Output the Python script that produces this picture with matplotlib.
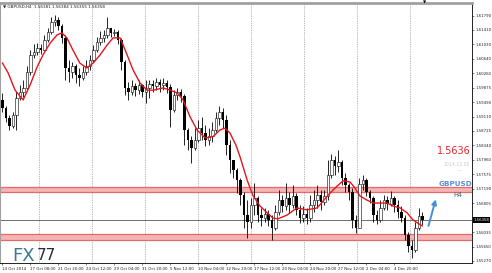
import matplotlib
matplotlib.use("Agg")
import matplotlib.pyplot as plt
from matplotlib.transforms import blended_transform_factory
import numpy as np

# GBPUSD H4 candles, one entry per bar (open = previous close)
first_open = 1.5955
closes = [1.5934, 1.5907, 1.5886, 1.5915, 1.5960, 1.5976, 1.5987, 1.6029, 1.6075, 1.6083,
          1.6093, 1.6088, 1.6114, 1.6136, 1.6162, 1.6168, 1.6152, 1.6120, 1.6040, 1.6029,
          1.6045, 1.6021, 1.6013, 1.6029, 1.6045, 1.6061, 1.6088, 1.6109, 1.6120, 1.6128,
          1.6146, 1.6133, 1.6136, 1.6114, 1.6056, 1.5987, 1.5976, 1.5992, 1.5982, 1.5995,
          1.5976, 1.5987, 1.5997, 1.5992, 1.6003, 1.5995, 1.6000, 1.5989, 1.5928, 1.5968,
          1.5976, 1.5966, 1.5875, 1.5849, 1.5827, 1.5849, 1.5880, 1.5867, 1.5849, 1.5859,
          1.5875, 1.5907, 1.5923, 1.5902, 1.5835, 1.5795, 1.5769, 1.5742, 1.5702, 1.5649,
          1.5631, 1.5676, 1.5694, 1.5649, 1.5641, 1.5652, 1.5636, 1.5615, 1.5657, 1.5689,
          1.5673, 1.5694, 1.5676, 1.5700, 1.5663, 1.5641, 1.5652, 1.5641, 1.5676, 1.5689,
          1.5702, 1.5684, 1.5700, 1.5756, 1.5795, 1.5780, 1.5790, 1.5748, 1.5729, 1.5710,
          1.5636, 1.5615, 1.5732, 1.5742, 1.5710, 1.5694, 1.5649, 1.5636, 1.5668, 1.5689,
          1.5679, 1.5694, 1.5676, 1.5657, 1.5641, 1.5596, 1.5567, 1.5556, 1.5615, 1.5647,
          1.56358]
highs = [1.5974, 1.5939, 1.5915, 1.5923, 1.5976, 1.5995, 1.6008, 1.6045, 1.6088, 1.6104,
         1.6106, 1.6104, 1.6128, 1.6146, 1.6176, 1.6181, 1.6176, 1.6157, 1.6128, 1.6061,
         1.6056, 1.6051, 1.6040, 1.6045, 1.6061, 1.6075, 1.6101, 1.6122, 1.6138, 1.6141,
         1.6176, 1.6146, 1.6144, 1.6141, 1.6120, 1.6061, 1.6003, 1.6008, 1.6000, 1.6008,
         1.5997, 1.6008, 1.6008, 1.6008, 1.6013, 1.6011, 1.6013, 1.6008, 1.5997, 1.5982,
         1.5987, 1.5984, 1.5971, 1.5880, 1.5859, 1.5880, 1.5902, 1.5910, 1.5888, 1.5880,
         1.5896, 1.5923, 1.5939, 1.5934, 1.5915, 1.5849, 1.5795, 1.5774, 1.5748, 1.5710,
         1.5689, 1.5694, 1.5734, 1.5700, 1.5668, 1.5668, 1.5663, 1.5649, 1.5676, 1.5716,
         1.5702, 1.5734, 1.5710, 1.5729, 1.5708, 1.5676, 1.5673, 1.5668, 1.5702, 1.5716,
         1.5729, 1.5716, 1.5716, 1.5795, 1.5811, 1.5806, 1.5822, 1.5795, 1.5761, 1.5734,
         1.5721, 1.5649, 1.5748, 1.5756, 1.5748, 1.5716, 1.5700, 1.5663, 1.5689, 1.5702,
         1.5700, 1.5713, 1.5700, 1.5689, 1.5673, 1.5649, 1.5604, 1.5583, 1.5631, 1.5668,
         1.5657]
lows = [1.5923, 1.5896, 1.5875, 1.5881, 1.5875, 1.5955, 1.5963, 1.5982, 1.6021, 1.6067,
        1.6075, 1.6077, 1.6088, 1.6109, 1.6130, 1.6152, 1.6141, 1.6106, 1.6008, 1.6003,
        1.6013, 1.6000, 1.5992, 1.6008, 1.6021, 1.6035, 1.6056, 1.6083, 1.6101, 1.6109,
        1.6120, 1.6122, 1.6125, 1.6104, 1.6035, 1.5968, 1.5955, 1.5968, 1.5966, 1.5971,
        1.5963, 1.5947, 1.5960, 1.5976, 1.5982, 1.5976, 1.5982, 1.5974, 1.5883, 1.5923,
        1.5955, 1.5950, 1.5835, 1.5822, 1.5788, 1.5822, 1.5843, 1.5849, 1.5833, 1.5835,
        1.5843, 1.5870, 1.5889, 1.5880, 1.5809, 1.5761, 1.5748, 1.5708, 1.5676, 1.5615,
        1.5588, 1.5615, 1.5649, 1.5631, 1.5620, 1.5631, 1.5620, 1.5583, 1.5609, 1.5649,
        1.5657, 1.5663, 1.5655, 1.5668, 1.5649, 1.5628, 1.5631, 1.5625, 1.5631, 1.5657,
        1.5668, 1.5663, 1.5676, 1.5689, 1.5748, 1.5756, 1.5764, 1.5729, 1.5710, 1.5689,
        1.5615, 1.5601, 1.5615, 1.5716, 1.5700, 1.5681, 1.5631, 1.5625, 1.5631, 1.5663,
        1.5663, 1.5673, 1.5657, 1.5641, 1.5631, 1.5583, 1.5551, 1.5535, 1.5551, 1.5609,
        1.5623]

# red moving average (bar position, price)
ma_bars = [0, 1.6, 3.6, 5.9, 7.9, 9.9, 11.6, 13.6, 15.6, 17.0, 18.4, 20.1, 22.1, 24.1, 25.9,
           27.9, 29.9, 31.6, 33.6, 35.6, 37.3, 39.3, 41.3, 43.0, 45.9, 47.9, 49.9, 51.6, 53.6,
           55.6, 57.9, 60.1, 62.1, 63.6, 65.0, 66.7, 67.9, 69.9, 71.6, 73.6, 75.6, 77.3, 78.7,
           81.3, 84.1, 87.0, 89.9, 91.6, 93.0, 95.6, 97.3, 99.3, 100.7, 102.1, 104.1, 105.9,
           107.9, 109.9, 111.6, 113.6, 115.6, 117.3, 119.9]
ma_values = [1.6053, 1.6027, 1.5981, 1.5955, 1.5995, 1.6043, 1.6075, 1.6106, 1.6128, 1.6133,
             1.6120, 1.6088, 1.6053, 1.6040, 1.6053, 1.6075, 1.6101, 1.6120, 1.6120, 1.6075,
             1.6035, 1.6000, 1.5981, 1.5981, 1.5987, 1.5981, 1.5974, 1.5955, 1.5910, 1.5875,
             1.5854, 1.5857, 1.5875, 1.5880, 1.5867, 1.5835, 1.5803, 1.5742, 1.5700, 1.5673,
             1.5655, 1.5641, 1.5639, 1.5649, 1.5668, 1.5663, 1.5668, 1.5686, 1.5702, 1.5726,
             1.5740, 1.5737, 1.5721, 1.5700, 1.5689, 1.5681, 1.5681, 1.5681, 1.5673, 1.5668,
             1.5655, 1.5636, 1.5620]

x_labels = ["14 Oct 2014", "17 Oct 08:00", "21 Oct 20:00", "24 Oct 12:00", "29 Oct 04:00",
            "31 Oct 20:00", "5 Nov 12:00", "10 Nov 04:00", "12 Nov 20:00", "17 Nov 12:00",
            "20 Nov 04:00", "24 Nov 20:00", "27 Nov 12:00", "2 Dec 04:00", "4 Dec 20:00"]
price_ticks = [1.61790, 1.61410, 1.61030, 1.60640, 1.60260, 1.59875, 1.59490, 1.59110,
               1.58725, 1.58340, 1.57960, 1.57575, 1.57190, 1.56805, 1.56035, 1.55650, 1.55270]

resistance = (1.57096, 1.57237)
support = (1.55836, 1.55979)
last_price = 1.56358
header = "\u25bc GBPUSD,H4  1.56381 1.56384 1.56355 1.56358"


fig = plt.figure(figsize=(4.92, 2.73), dpi=100)
fig.patch.set_facecolor("white")
ax = fig.add_axes([0.001, 0.0348, 0.9583, 0.9553])

x = np.arange(len(closes))
c = np.array(closes)
o = np.array([first_open] + closes[:-1])
up = c >= o

# bands first, candles on top
for lo, hi in (resistance, support):
    ax.axhspan(lo, hi, color="#f5b5b5", lw=0, zorder=1)
    ax.axhline(lo, color="#e36a6a", lw=0.9, zorder=1)
    ax.axhline(hi, color="#e36a6a", lw=0.9, zorder=1)

for gx in np.arange(8) * 15.13 + 10.5:
    ax.axvline(gx, color="#7a7a7a", lw=0.5, ls=(0, (1, 1.5)), zorder=0)

ax.axhline(last_price, color="#6e6e6e", lw=0.7, zorder=2)

ax.vlines(x, lows, highs, color="black", lw=0.6, zorder=3)
body = np.maximum(np.abs(c - o), 0.00006)
bottom = np.minimum(c, o)
ax.bar(x[up], body[up], bottom=bottom[up], width=0.6, facecolor="white",
       edgecolor="black", lw=0.4, zorder=4)
ax.bar(x[~up], body[~up], bottom=bottom[~up], width=0.6, color="black", lw=0, zorder=4)

ax.plot(ma_bars, ma_values, color="#e3161c", lw=1.0, zorder=5)

# blue arrow
ax.annotate("", xy=(124.0, 1.5698), xytext=(121.5, 1.5613),
            arrowprops=dict(arrowstyle="-|>", color="#4a8fd6", lw=1.4, mutation_scale=7),
            zorder=6)

ax.set_xlim(-0.57, 134.14)
ax.set_ylim(1.55203, 1.62135)

ax.yaxis.tick_right()
ax.set_yticks(price_ticks)
ax.set_yticklabels(["%.5f" % p for p in price_ticks])
ax.set_xticks(np.arange(len(x_labels)) * 8)
ax.set_xticklabels(x_labels)
for lbl in ax.get_xticklabels():
    lbl.set_ha("left")
ax.tick_params(axis="both", labelsize=2.8, length=1.5, width=0.4, pad=0.8, colors="#202020")

for side in ("left", "top"):
    ax.spines[side].set_color("#a0a0a0")
ax.spines["top"].set_linewidth(2)
ax.spines["right"].set_linewidth(0.6)
ax.spines["bottom"].set_linewidth(0.6)

tr = blended_transform_factory(ax.transAxes, ax.transData)
ax.text(1.004, last_price, "%.5f" % last_price, transform=tr, fontsize=2.8, color="white",
        va="center", ha="left", bbox=dict(fc="black", ec="none", pad=0.5), zorder=7)

fig.text(3 / 492, 1 - 6 / 273, header, fontsize=3.0, va="center", color="#202020")
fig.text(425 / 492, 1 - 2 / 273, "\u25bc", fontsize=3, ha="center", va="center")

# right side annotation block
fig.text(471 / 492, 1 - 150.7 / 273, "1.5636", fontsize=7, color="#e8242c", ha="right", va="center")
fig.text(457 / 492, 1 - 164 / 273, "2014.12.05", fontsize=3.3, color="#c8c8c8", ha="center", va="center")
fig.text(459 / 492, 1 - 171 / 273, "\u2014", fontsize=3.5, color="#c8c8c8", ha="center", va="center")
fig.text(455.7 / 492, 1 - 184.3 / 273, "GBPUSD", fontsize=5.2, color="#5b8fd6", weight="bold",
         ha="center", va="center")
fig.text(458 / 492, 1 - 195 / 273, "H4", fontsize=4.8, color="#45606e", ha="center", va="center")

# logo
fig.text(12 / 492, 1 - 261 / 273, "FX", fontsize=13, color="#3a7b90", va="baseline")
fig.text(37 / 492, 1 - 260 / 273, "77", fontsize=11, color="#2a2a3a", va="baseline")

fig.savefig("out.png", dpi=100, facecolor="white")
